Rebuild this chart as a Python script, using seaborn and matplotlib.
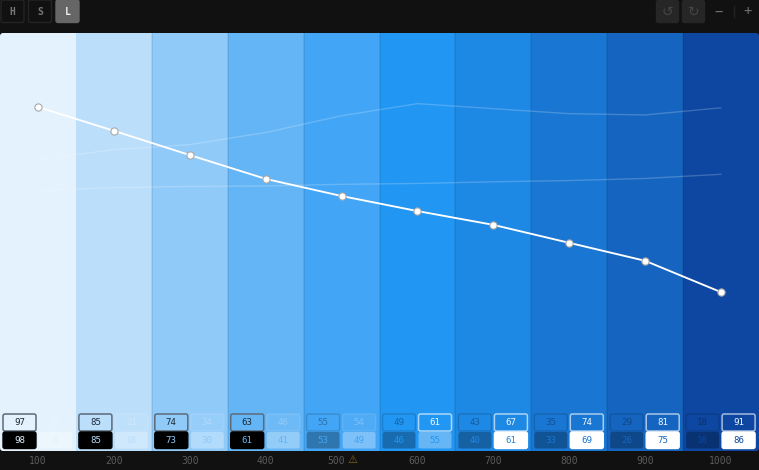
import matplotlib
matplotlib.use("Agg")
import matplotlib.pyplot as plt
from matplotlib.patches import FancyBboxPatch
import pandas as pd
import seaborn as sns

W, H = 759, 470

shades = ["100", "200", "300", "400", "500", "600", "700", "800", "900", "1000"]
colors = ["#E3F2FD", "#BBDEFB", "#90CAF9", "#64B5F6", "#42A5F5",
          "#2196F3", "#1E88E5", "#1976D2", "#1565C0", "#0D47A1"]

lightness = [82.3, 76.6, 70.8, 65.1, 61.0, 57.4, 54.1, 49.8, 45.5, 38.0]
saturation = [69.7, 72.1, 73.3, 76.2, 80.2, 83.1, 81.9, 80.7, 80.4, 82.1]
hue = [62.3, 63.0, 63.3, 63.4, 63.8, 64.0, 64.4, 64.7, 65.2, 66.2]

top_left = [97, 85, 74, 63, 55, 49, 43, 35, 29, 18]
top_right = [6, 21, 34, 46, 54, 61, 67, 74, 81, 91]
bottom_left = [98, 85, 73, 61, 53, 46, 40, 33, 26, 16]
bottom_right = [6, 18, 30, 41, 49, 55, 61, 69, 75, 86]

BG = "#111111"
MONO = "DejaVu Sans Mono"

sns.set_theme(style="white")
plt.rcParams["font.family"] = MONO

fig = plt.figure(figsize=(W / 100, H / 100), dpi=100, facecolor=BG)

# chart area, y is the lightness scale
ax = fig.add_axes([0, 1 - 451 / H, 1, 418 / H])
df = pd.DataFrame({"shade": shades, "top": [100] * 10,
                   "lightness": lightness, "saturation": saturation, "hue": hue})
sns.barplot(data=df, x="shade", y="top", hue="shade", palette=colors, width=1,
            legend=False, saturation=1, ax=ax, linewidth=0)
ax.set_xlim(-0.5, 9.5)
ax.set_ylim(0, 100)
ax.axis("off")

# darker hairline between the columns
for i in range(2, 10):
    ax.axvline(i - 0.5, color="black", alpha=0.09, lw=1.2)

sns.lineplot(data=df, x="shade", y="saturation", color="white", alpha=0.2, lw=1.0, ax=ax, sort=False)
sns.lineplot(data=df, x="shade", y="hue", color="white", alpha=0.2, lw=1.0, ax=ax, sort=False)
sns.lineplot(data=df, x="shade", y="lightness", color="white", lw=1.35, ax=ax, sort=False,
             marker="o", markersize=5.2, markerfacecolor="white",
             markeredgecolor="#a8a8a8", markeredgewidth=0.8)
ax.axis("off")

# overlay in pixels for the interface parts
ui = fig.add_axes([0, 0, 1, 1], facecolor="none")
ui.set_xlim(0, W)
ui.set_ylim(H, 0)
ui.axis("off")

# small rounded corners on the colour block
corners = FancyBboxPatch((3, 36), W - 6, 412, boxstyle="round,pad=3,rounding_size=3",
                         transform=ui.transData)
for bar in ax.patches:
    bar.set_clip_path(corners)


def chip(x, y, w, h, label, face, edge, text, lw=1.0, size=6.6, weight="normal"):
    ui.add_patch(FancyBboxPatch((x + 2, y + 2), w - 4, h - 4,
                                boxstyle="round,pad=2,rounding_size=2",
                                fc=face, ec=edge, lw=lw))
    return ui.text(x + w / 2, y + h / 2 + 0.3, str(label), color=text, fontsize=size,
                   ha="center", va="center", weight=weight)


col = W / 10
for i in range(10):
    x0 = i * col
    c = colors[i]
    # left pair
    if i < 4:
        chip(x0 + 3, 414, 33, 17, top_left[i], c, "#5d6b78", "#1d2a36", lw=1.1)
        chip(x0 + 3, 432, 33, 16.5, bottom_left[i], "#000000", "#000000", c)
    else:
        chip(x0 + 3, 414, 33, 17, top_left[i], c, "#00000026", "#00000050")
        chip(x0 + 3, 432, 33, 16.5, bottom_left[i], "#00000048", "none", c)
    # right pair
    if i >= 5:
        chip(x0 + 39, 414, 33, 17, top_right[i], c, "#ffffffa0", "#f2f7fc", lw=1.1)
    else:
        chip(x0 + 39, 414, 33, 17, top_right[i], "#ffffff12", "#ffffff1c", "#ffffff40")
    if i >= 6:
        chip(x0 + 39, 432, 33, 16.5, bottom_right[i], "#ffffff", "#ffffff", c)
    else:
        chip(x0 + 39, 432, 33, 16.5, bottom_right[i], "#ffffff50", "none", c)
    label_x = x0 + col / 2 - (5 if i == 4 else 0)
    ui.text(label_x, 460.5, shades[i], color="#5c5c5c", fontsize=7, ha="center", va="center")

ui.text(352, 460, "\u26a0", color="#8a6a1e", fontsize=8, ha="center", va="center",
        family="DejaVu Sans")

# top left buttons
for label, x, active in [("H", 1, False), ("S", 28.5, False), ("L", 56, True)]:
    chip(x, 0, 23, 22.5, label, "#666666" if active else BG,
         "#666666" if active else "#242424",
         "#eeeeee" if active else "#777777", size=7, weight="bold")

# undo and redo
for symbol, x in [("\u21ba", 656.5), ("\u21bb", 682.5)]:
    t = chip(x, 0.5, 22, 22, symbol, "#262626", "#262626", "#454545", size=10)
    t.set_family("DejaVu Sans")

ui.text(718.5, 11.5, "\u2212", color="#707070", fontsize=10, ha="center", va="center")
ui.text(748, 11.5, "+", color="#707070", fontsize=10, ha="center", va="center")
ui.plot([733.5, 733.5], [6, 17], color="#222222", lw=1)

fig.savefig("out.png", dpi=100, facecolor=BG)
